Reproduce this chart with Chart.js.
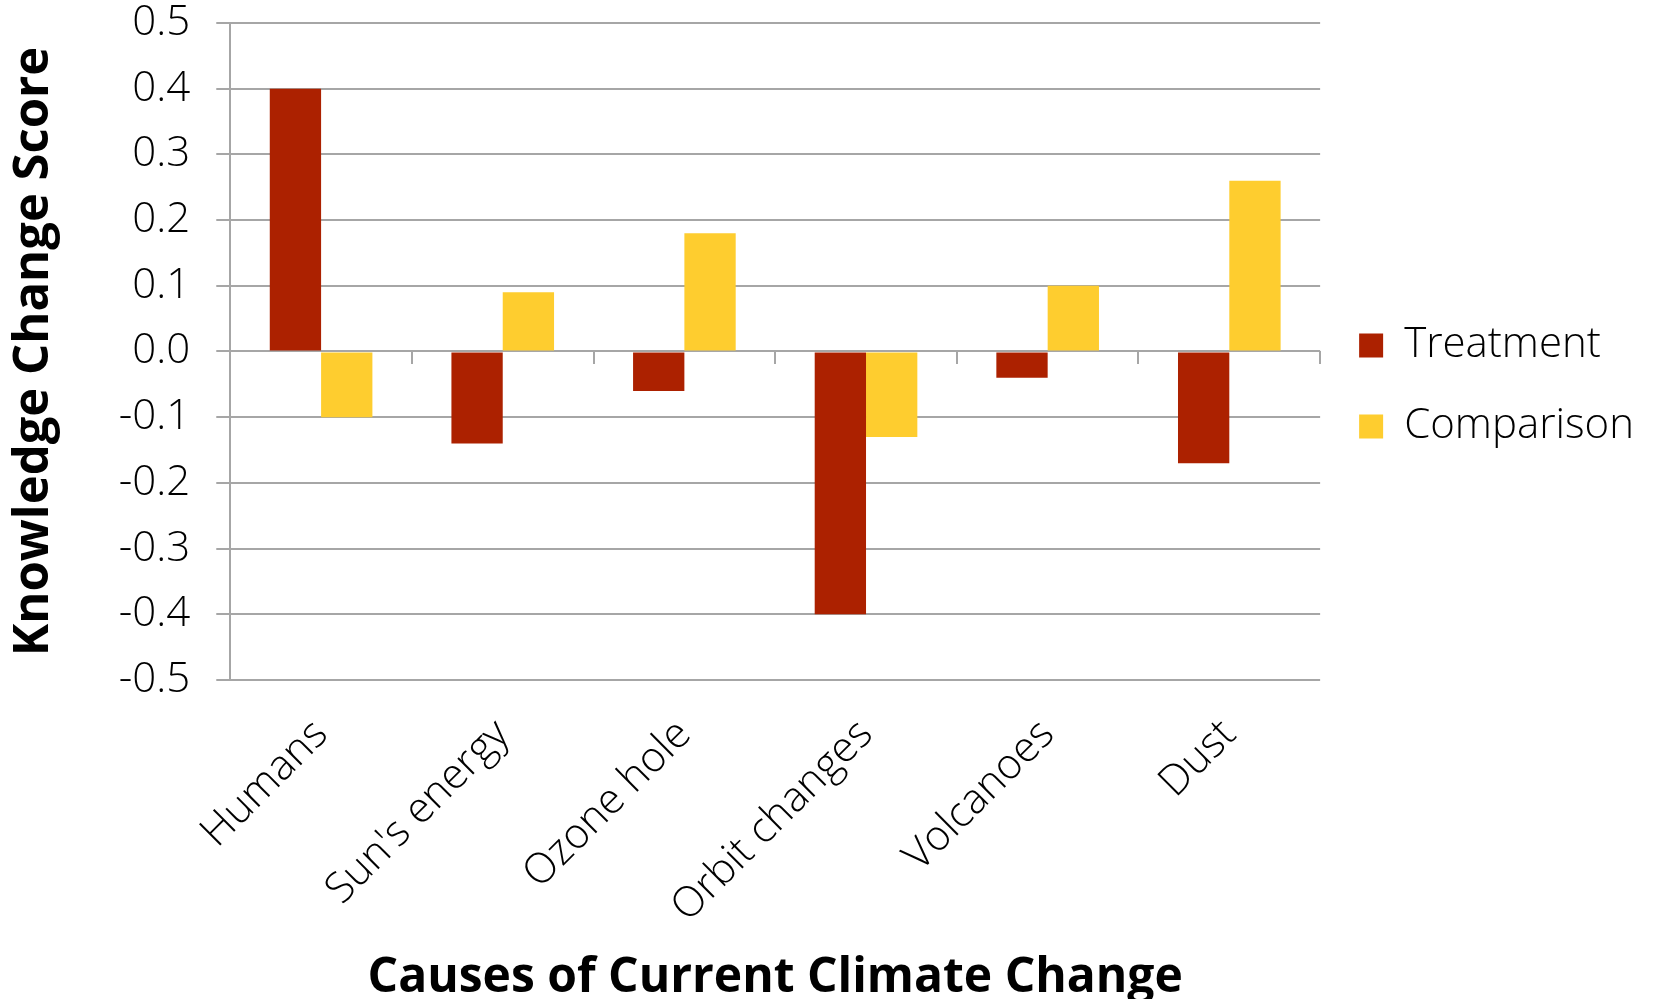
<!DOCTYPE html>
<html>
<head>
<meta charset="utf-8">
<script src="https://cdn.jsdelivr.net/npm/chart.js@4.4.1/dist/chart.umd.min.js"></script>
<style>
  html, body { margin: 0; padding: 0; background: #fff; }
  #wrap { width: 1670px; height: 999px; position: relative; }
</style>
</head>
<body>
<div id="wrap"><canvas id="chart"></canvas></div>
<script>
// Knowledge change scores by cause of climate change
const categories = ["Humans", "Sun's energy", "Ozone hole", "Orbit changes", "Volcanoes", "Dust"];
const seriesNames = ["Treatment", "Comparison"];
const treatment = [0.40, -0.14, -0.06, -0.40, -0.04, -0.17];
const comparison = [-0.10, 0.09, 0.18, -0.13, 0.10, 0.26];
const yTicks = { min: -0.5, max: 0.5, step: 0.1 };

const GRID = '#a6a6a6';
const PLOT_TOP = 23; // room above the plot for half of the top tick label
Chart.defaults.font.family = "'Open Sans', sans-serif";
Chart.defaults.color = '#000';

new Chart(document.getElementById('chart'), {
  type: 'bar',
  data: {
    labels: categories,
    datasets: [
      { label: seriesNames[0], data: treatment, backgroundColor: '#ac2100', borderWidth: 0 },
      { label: seriesNames[1], data: comparison, backgroundColor: '#fecd2f', borderWidth: 0 }
    ]
  },
  options: {
    responsive: true,
    maintainAspectRatio: false,
    animation: false,
    layout: { padding: { top: 0, right: 26, bottom: 0, left: 0 } },
    datasets: { bar: { barPercentage: 1, categoryPercentage: 0.565 } },
    plugins: {
      tooltip: { enabled: false },
      legend: {
        position: 'right',
        align: 'center',
        fullSize: false,
        title: { display: true, text: '', font: { size: 1, lineHeight: 1 }, padding: { top: 68, bottom: 0 } },
        labels: { boxWidth: 24, boxHeight: 24, padding: 39, font: { size: 42, weight: 300 }, color: '#000' }
      }
    },
    scales: {
      x: {
        type: 'category',
        grid: { display: false },
        border: { display: false },
        ticks: { font: { size: 42, weight: 300 }, maxRotation: 45, minRotation: 45, autoSkip: false, padding: 22 },
        title: {
          display: true,
          text: 'Causes of Current Climate Change',
          font: { size: 48, weight: 'bold' },
          padding: { top: -5, bottom: -8 }
        }
      },
      // category boundary ticks along the zero line
      x2: {
        type: 'category',
        position: { y: 0 },
        offset: true,
        grid: { offset: true, drawOnChartArea: false, drawTicks: true, tickLength: 13, color: GRID, lineWidth: 2 },
        border: { display: false },
        ticks: { display: false }
      },
      y: {
        min: yTicks.min,
        max: yTicks.max,
        grid: { color: GRID, lineWidth: 2, tickLength: 14 },
        border: { display: true, color: GRID, width: 2 },
        ticks: {
          stepSize: yTicks.step,
          font: { size: 42, weight: 300 },
          padding: 26,
          callback: v => Number(v).toFixed(1)
        },
        afterFit: scale => { scale.paddingTop = PLOT_TOP; },
        title: {
          display: true,
          text: 'Knowledge Change Score',
          font: { size: 49, weight: 'bold' },
          padding: { top: 5, bottom: 29 }
        }
      }
    }
  }
});
</script>
</body>
</html>
